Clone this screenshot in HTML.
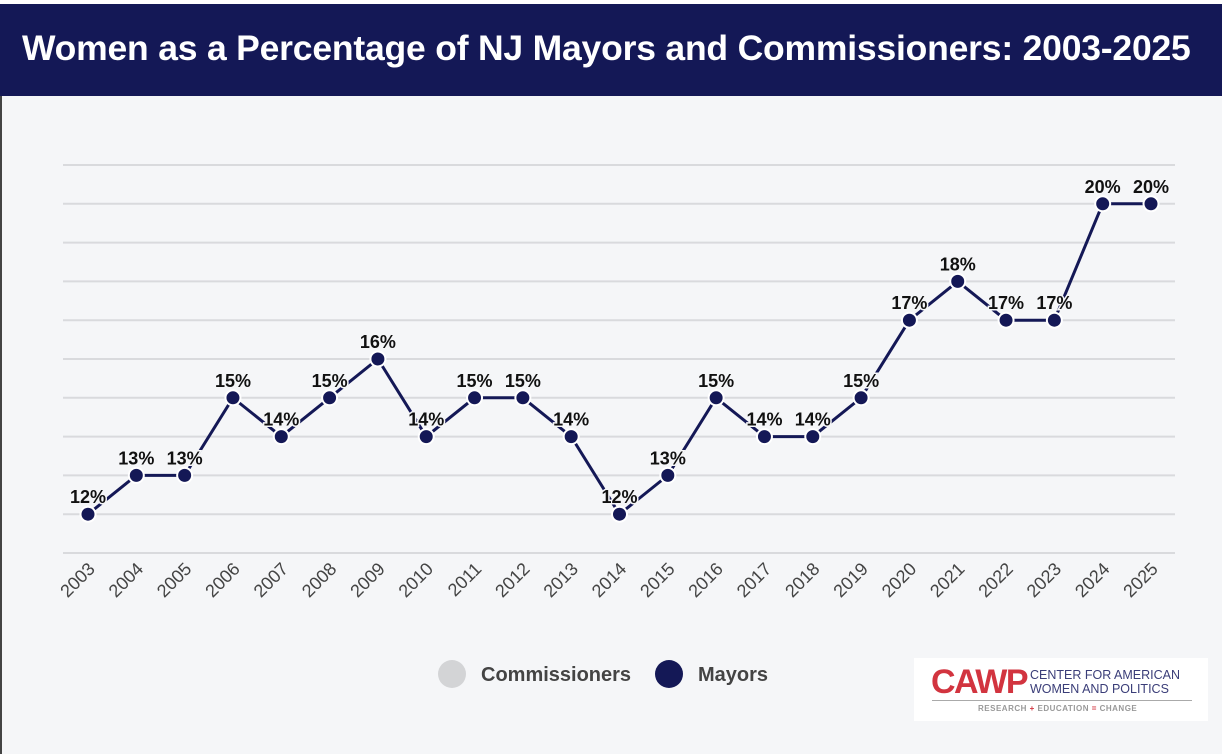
<!DOCTYPE html>
<html><head><meta charset="utf-8"><style>
body{margin:0;width:1226px;height:754px;background:#fff;font-family:"Liberation Sans",sans-serif;overflow:hidden;position:relative}
#title{position:absolute;left:0;top:4px;width:1222px;height:92px;background:#141856;color:#fff;font-weight:bold;font-size:35.5px;line-height:88px;padding-left:22px;box-sizing:border-box;letter-spacing:-0.2px;white-space:nowrap}
#panel{position:absolute;left:0;top:96px;width:1222px;height:658px;background:#f5f6f8;border-left:2px solid #444;box-sizing:border-box}
#logo{position:absolute;left:914px;top:658px;width:294px;height:63px;background:#fff;white-space:nowrap}
</style></head><body>
<div id="title">Women as a Percentage of NJ Mayors and Commissioners: 2003-2025</div>
<div id="panel"></div>
<svg id="chart" width="1226" height="754" style="position:absolute;left:0;top:0"></svg>
<div id="logo">
<div style="position:absolute;left:17px;top:6px;color:#d2343f;font-weight:bold;font-size:34px;letter-spacing:-1.5px;line-height:36px">CAWP</div>
<div style="position:absolute;left:116px;top:10px;color:#3a3d78;font-size:12.5px;line-height:14px">CENTER FOR AMERICAN<br>WOMEN AND POLITICS</div>
<div style="position:absolute;left:18px;top:42px;width:260px;border-top:1px solid #aaa"></div>
<div style="position:absolute;left:64px;top:46px;color:#999;font-size:8px;font-weight:bold;letter-spacing:0.5px">RESEARCH <span style="color:#d2343f">+</span> EDUCATION <span style="color:#d2343f">=</span> CHANGE</div>
</div>
<script>
const years=["2003","2004","2005","2006","2007","2008","2009","2010","2011","2012","2013","2014","2015","2016","2017","2018","2019","2020","2021","2022","2023","2024","2025"];
const mayors=[12,13,13,15,14,15,16,14,15,15,14,12,13,15,14,14,15,17,18,17,17,20,20];
const gridVals=[11,12,13,14,15,16,17,18,19,20,21];
const NS="http://www.w3.org/2000/svg";
const svg=document.getElementById('chart');
const x0=88,x1=1151,yLo=11,yHi=21,py0=553,py1=165;
function X(i){return x0+(x1-x0)*i/(years.length-1);}
function Y(v){return py0+(py0-py1)*(yLo-v)/(yHi-yLo);}
function mk(t,a){const e=document.createElementNS(NS,t);for(const k in a)e.setAttribute(k,a[k]);svg.appendChild(e);return e;}
gridVals.forEach(v=>{const l=mk('line',{x1:63,x2:1175,y1:Y(v),y2:Y(v),stroke:'#d9dadd','stroke-width':2});

});
years.forEach((y,i)=>{const t=mk('text',{x:X(i)+8,y:570,'font-size':18,fill:'#444','text-anchor':'end',transform:`rotate(-45 ${X(i)+8} 570)`});t.textContent=y;

});
const pl=mk('polyline',{points:mayors.map((v,i)=>X(i)+','+Y(v)).join(' '),fill:'none',stroke:'#141856','stroke-width':3});


mayors.forEach((v,i)=>{const c=mk('circle',{cx:X(i),cy:Y(v),r:7.5,fill:'#141856',stroke:'#fff','stroke-width':2});


const t=mk('text',{x:X(i),y:Y(v)-11,'font-size':18,'font-weight':'bold',fill:'#111','text-anchor':'middle',stroke:'#f5f6f8','stroke-width':3,'paint-order':'stroke'});t.textContent=v+'%';

});
const lg=[["Commissioners","#d3d4d6",452],["Mayors","#141856",669]];
lg.forEach(d=>{const c=mk('circle',{cx:d[2],cy:674,r:14,fill:d[1]});


const t=mk('text',{x:d[2]+29,y:681,'font-size':20,'font-weight':'bold',fill:'#444'});t.textContent=d[0];

});
</script>
</body></html>
